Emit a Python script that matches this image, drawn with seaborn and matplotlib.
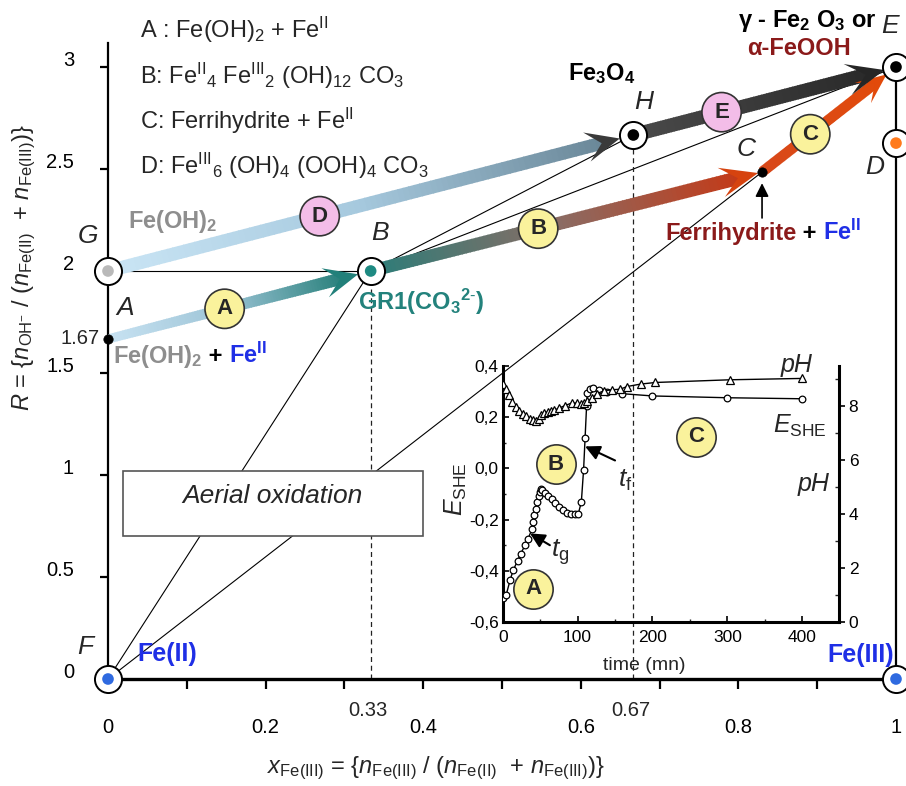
import numpy as np
import matplotlib
matplotlib.use("Agg")
import matplotlib.pyplot as plt
import seaborn as sns
from matplotlib.collections import LineCollection
from matplotlib.colors import LinearSegmentedColormap
from matplotlib.patches import Polygon, Rectangle
from matplotlib.transforms import IdentityTransform, ScaledTranslation

# ------------------------------------------------------------------ data
node_names = ["F", "Fe3", "A", "G", "B", "H", "C", "D", "E"]
node_x = [0.0, 1.0, 0.0, 0.0, 1 / 3, 2 / 3, 0.83, 1.0, 1.0]
node_y = [0.0, 0.0, 5 / 3, 2.0, 2.0, 8 / 3, 2.485, 2.627, 3.0]

x_major = [0, 0.2, 0.4, 0.6, 0.8, 1]
x_major_labels = ["0", "0.2", "0.4", "0.6", "0.8", "1"]
x_minor = [0.1, 0.3, 0.5, 0.7, 0.9]
x_special = [1 / 3, 2 / 3]
x_special_labels = ["0.33", "0.67"]
y_major = [0, 0.5, 1, 1.5, 2, 2.5, 3]
y_major_labels = ["0", "0.5", "1", "1.5", "2", "2.5", "3"]
y_special = [5 / 3]
y_special_labels = ["1.67"]

route_start = ["A", "G", "B", "C", "H"]
route_end = ["B", "H", "C", "E", "E"]
route_badge = ["A", "D", "B", "C", "E"]

thin_from = ["G", "F", "F", "B", "B"]
thin_to = ["B", "B", "C", "H", "E"]
dashed_nodes = ["B", "H"]

legend_lines = [
    r"A : Fe(OH)$_2$ + Fe$^{\mathrm{II}}$",
    r"B: Fe$^{\mathrm{II}}{}_4$ Fe$^{\mathrm{III}}{}_2$ (OH)$_{12}$ CO$_3$",
    r"C: Ferrihydrite + Fe$^{\mathrm{II}}$",
    r"D: Fe$^{\mathrm{III}}{}_6$ (OH)$_4$ (OOH)$_4$ CO$_3$",
]

# inset: E_SHE (V) and pH versus time (mn)
t_E = [0, 4.5, 10, 14, 20, 24, 30, 34, 39, 40, 42, 44, 46, 49, 50, 51, 53, 57, 61,
       66, 70, 75, 80, 86, 91, 97, 101, 105, 108, 110, 112, 113, 117, 121, 128,
       139, 159, 200, 300, 400]
E_she = [-0.505, -0.496, -0.435, -0.398, -0.36, -0.333, -0.30, -0.274, -0.238,
         -0.209, -0.181, -0.157, -0.131, -0.108, -0.092, -0.079, -0.086, -0.096,
         -0.109, -0.121, -0.135, -0.151, -0.164, -0.173, -0.177, -0.177, -0.177,
         -0.131, -0.005, 0.119, 0.244, 0.296, 0.309, 0.314, 0.305, 0.298, 0.292,
         0.283, 0.276, 0.272]
t_pH = [0, 4.5, 9, 13, 18, 22, 27, 31, 36, 40, 45, 48, 51, 55, 60, 64, 69, 75, 83,
        92, 99, 104, 108, 113, 119, 126, 135, 146, 157, 166, 184, 204, 304, 400]
pH = [8.81, 8.62, 8.41, 8.15, 7.98, 7.82, 7.70, 7.61, 7.53, 7.47, 7.45, 7.51, 7.66,
      7.73, 7.78, 7.81, 7.84, 7.92, 8.01, 8.11, 8.11, 8.08, 8.11, 8.17, 8.29, 8.46,
      8.56, 8.60, 8.62, 8.72, 8.81, 8.87, 8.97, 9.02]
inset_t_ticks = [0, 100, 200, 300, 400]
inset_E_ticks = [-0.6, -0.4, -0.2, 0.0, 0.2, 0.4]
inset_E_labels = ["-0,6", "-0,4", "-0,2", "0,0", "0,2", "0,4"]
inset_pH_ticks = [0, 2, 4, 6, 8]

# ------------------------------------------------------------------ style
sns.set_theme(style="white")
plt.rcParams["font.family"] = ["Liberation Sans", "DejaVu Sans"]
plt.rcParams["mathtext.fontset"] = "custom"
plt.rcParams["mathtext.rm"] = "Liberation Sans"
plt.rcParams["mathtext.it"] = "Liberation Sans:italic"
plt.rcParams["mathtext.bf"] = "Liberation Sans:bold"
plt.rcParams["mathtext.sf"] = "Liberation Sans"

YELLOW = "#faf29c"
PINK = "#f3bde8"
TEAL = "#23827c"
DKRED = "#8b1a1a"
BLUE = "#1f2fe6"
GRAY = "#8e8e8e"

dot_color = {"F": "#2f6ae0", "Fe3": "#2f6ae0", "G": "#b9b9b9", "B": "#1e8a82",
             "H": "black", "D": "#ff7a1c", "E": "black"}
route_cols = {
    "A": (["#c8e2f2", "#9cc4d6", "#2a817c"], 6.5, 9.0, 34, 30, 0.55, 13, "#22807a"),
    "D": (["#cae5f5", "#a6c9de", "#6a8798"], 9.5, 9.5, 34, 30, 0.55, 14, "#3a3a3a"),
    "B": (["#2c7d79", "#8a6c64", "#c43a18"], 9.0, 10.0, 38, 30, 0.55, 4, "#d6430f"),
    "C": (["#d8481a", "#e14b0c"], 7.5, 7.5, 30, 26, 0.5, 12, "#e24a0a"),
    "E": (["#4a4a4a", "#2a2a2a"], 10.0, 10.0, 38, 32, 0.5, 12, "#262626"),
}
badge_frac = {"A": 0.444, "D": 0.403, "B": 0.428, "C": 0.36, "E": 0.336}
badge_face = {"A": YELLOW, "B": YELLOW, "C": YELLOW, "D": PINK, "E": PINK}

P = {n: (x, y) for n, x, y in zip(node_names, node_x, node_y)}

# ------------------------------------------------------------------ figure
W, H = 906, 786
X0, X1, Y0, YPX, YTOP = 108, 896, 679, 204, 3.12
fig = plt.figure(figsize=(W / 100, H / 100), dpi=100)
fig.patch.set_facecolor("white")
ax = fig.add_axes([X0 / W, (H - Y0) / H, (X1 - X0) / W, YPX * YTOP / H])
ax.set_xlim(0, 1)
ax.set_ylim(0, YTOP)
ax.set_facecolor("white")

ax.spines["top"].set_visible(False)
ax.spines["left"].set_linewidth(1.6)
ax.spines["bottom"].set_linewidth(2.4)
ax.spines["right"].set_linewidth(1.6)
ax.spines["right"].set_bounds(0, 3)
for s in ["left", "bottom", "right"]:
    ax.spines[s].set_color("black")

ax.set_xticks(x_major, x_major_labels, fontsize=14.5)
ax.set_xticks(x_minor, minor=True)
ax.tick_params(axis="x", which="both", direction="out", length=7, width=1.6,
               pad=21, colors="black", bottom=True)
ax.set_yticks(y_major, y_major_labels, fontsize=14.5)
ax.tick_params(axis="y", which="both", direction="out", length=5.5, width=1.6,
               pad=19, colors="black", left=True)
for lab in ax.get_yticklabels():
    lab.set_transform(lab.get_transform() + ScaledTranslation(0, 0.09, fig.dpi_scale_trans))
for xv, lb in zip(x_special, x_special_labels):
    ax.annotate(lb, xy=(xv, 0), xytext=(-2, -23), textcoords="offset points",
                ha="center", va="center", fontsize=14.5, annotation_clip=False)
for yv, lb in zip(y_special, y_special_labels):
    ax.annotate(lb, xy=(0, yv), xytext=(-6, 0), textcoords="offset points",
                ha="right", va="center", fontsize=14.5, annotation_clip=False)

ax.set_xlabel(r"$x_{\mathrm{Fe(III)}}$ = {$n_{\mathrm{Fe(III)}}$ / ($n_{\mathrm{Fe(II)}}$  + $n_{\mathrm{Fe(III)}}$)}",
              fontsize=17)
ax.xaxis.set_label_coords(0.416, -89 / (YPX * YTOP))
ax.xaxis.label.set_va("center")
ax.set_ylabel(r"$R$ = {$n_{\mathrm{OH^{-}}}$ / ($n_{\mathrm{Fe(II)}}$  + $n_{\mathrm{Fe(III)}}$)}",
              fontsize=17)
ax.yaxis.set_label_coords(-(X0 - 24) / (X1 - X0), (Y0 - 268) / (YPX * YTOP))
ax.yaxis.label.set_va("center")

# thin construction lines
for a, b in zip(thin_from, thin_to):
    ax.plot([P[a][0], P[b][0]], [P[a][1], P[b][1]], color="black", lw=0.8, zorder=2)
for n in dashed_nodes:
    ax.plot([P[n][0], P[n][0]], [0, P[n][1]], color="#222222", lw=0.9,
            ls=(0, (4, 3)), zorder=2)

# Aerial oxidation box
ax.add_patch(Rectangle((0.019, 0.701), 0.381, 0.319, facecolor="white",
                       edgecolor="#555555", lw=1.2, zorder=2.5))
ax.text(0.209, 0.897, "Aerial oxidation", style="italic", fontsize=19,
        ha="center", va="center", zorder=2.6)


# gradient arrows
def draw_route(p0, p1, cols, lw0, lw1, L, Wd, notch, gap, head_col, z=3):
    T = ax.transData
    a = np.array(T.transform(p0))
    b = np.array(T.transform(p1))
    d = b - a
    u = d / np.hypot(*d)
    nrm = np.array([-u[1], u[0]])
    tip = b - u * gap
    base = tip - u * L * notch
    N = 90
    s = np.linspace(0, 1, N + 1)
    pts = a[None, :] + (base - a)[None, :] * s[:, None]
    segs = [[pts[i], pts[i + 1] + u * 0.9] for i in range(N)]
    cmap = LinearSegmentedColormap.from_list("g", cols)
    lc = LineCollection(segs, colors=cmap(s[:-1]), linewidths=np.linspace(lw0, lw1, N),
                        capstyle="butt", transform=IdentityTransform(), zorder=z)
    ax.add_collection(lc, autolim=False)
    head = Polygon([tip, tip - u * L + nrm * Wd / 2, tip - u * L * notch,
                    tip - u * L - nrm * Wd / 2], closed=True, facecolor=head_col,
                   edgecolor="none", transform=IdentityTransform(), zorder=z + 0.1)
    ax.add_patch(head)


for st, en, bd in zip(route_start, route_end, route_badge):
    cols, lw0, lw1, L, Wd, notch, gap, hc = route_cols[bd]
    draw_route(P[st], P[en], cols, lw0, lw1, L, Wd, notch, gap, hc)

# badges on routes
bx = [P[s][0] + badge_frac[b] * (P[e][0] - P[s][0]) for s, e, b in zip(route_start, route_end, route_badge)]
by = [P[s][1] + badge_frac[b] * (P[e][1] - P[s][1]) for s, e, b in zip(route_start, route_end, route_badge)]
sns.scatterplot(x=bx, y=by, hue=route_badge, palette=badge_face, s=800,
                edgecolor="#333333", linewidth=1.2, legend=False, ax=ax, zorder=5)
for xx, yy, b in zip(bx, by, route_badge):
    ax.text(xx, yy, b, fontsize=16, fontweight="bold", ha="center", va="center", zorder=5.5)

# nodes
ring = [n for n in node_names if n in dot_color]
sns.scatterplot(x=[P[n][0] for n in ring], y=[P[n][1] for n in ring], s=380,
                color="white", edgecolor="black", linewidth=1.4, ax=ax, zorder=6,
                clip_on=False, legend=False)
sns.scatterplot(x=[P[n][0] for n in ring], y=[P[n][1] for n in ring], hue=ring,
                palette=dot_color, s=70, edgecolor="none", ax=ax, zorder=6.5,
                clip_on=False, legend=False)
sns.scatterplot(x=[P["A"][0], P["C"][0]], y=[P["A"][1], P["C"][1]], s=45,
                color="black", edgecolor="black", ax=ax, zorder=6.5, clip_on=False,
                legend=False)

# node letters
letter_pos = {"G": (-0.025, 2.17), "A": (0.0216, 1.82), "B": (0.345, 2.186),
              "H": (0.68, 2.83), "C": (0.81, 2.60), "D": (0.973, 2.51),
              "E": (0.992, 3.20), "F": (-0.029, 0.157)}
for k, (xx, yy) in letter_pos.items():
    ax.text(xx, yy, k, style="italic", fontsize=19, ha="center", va="center",
            zorder=7, clip_on=False)


def chain(x, y, parts, size, weight="bold", va="baseline"):
    t = ax.text(x, y, parts[0][0], color=parts[0][1], fontsize=size,
                fontweight=weight, va=va, ha="left", zorder=8)
    prev = t
    for s, c in parts[1:]:
        prev = ax.annotate(s, xy=(1, y), xycoords=(prev, "data"), color=c,
                           fontsize=size, fontweight=weight, va=va, ha="left",
                           zorder=8, annotation_clip=False)
    return t


chain(0.025, 2.21, [(r"Fe(OH)$_\mathbf{2}$", GRAY)], 17)
chain(0.006, 1.549, [(r"Fe(OH)$_\mathbf{2}$", GRAY), (" + ", "black"),
                     (r"Fe$^\mathbf{II}$", BLUE)], 17)
chain(0.317, 1.81, [(r"GR1(CO$_\mathbf{3}$$^{\mathbf{2}\text{-}}$)", TEAL)], 17)
chain(0.584, 2.936, [(r"Fe$_\mathbf{3}$O$_\mathbf{4}$", "black")], 17)
chain(0.80, 3.196, [(r"γ - Fe$_\mathbf{2}$ O$_\mathbf{3}$ or", "black")], 17)
chain(0.811, 3.059, [("α-FeOOH", DKRED)], 17)
chain(0.707, 2.152, [("Ferrihydrite", DKRED), (" + ", "black"),
                     (r"Fe$^\mathbf{II}$", BLUE)], 17)
ax.text(0.037, 0.123, "Fe(II)", color=BLUE, fontsize=18, fontweight="bold",
        ha="left", va="center", zorder=8)
ax.text(0.997, 0.118, "Fe(III)", color=BLUE, fontsize=18, fontweight="bold",
        ha="right", va="center", zorder=8)
ax.annotate("", xy=P["C"], xytext=(P["C"][0], 2.26),
            arrowprops=dict(arrowstyle="-|>", color="black", lw=1.2,
                            mutation_scale=20, shrinkA=0, shrinkB=8), zorder=7)

for i, line in enumerate(legend_lines):
    ax.text(0.041, 3.142 - i * 0.2225, line, fontsize=17, ha="left",
            va="baseline", zorder=8, clip_on=False)

# ------------------------------------------------------------------ inset
IL, IR, IB, IT = 502.7, 839, 622, 366
axin = fig.add_axes([IL / W, (H - IB) / H, (IR - IL) / W, (IB - IT) / H])
axin.set_facecolor("none")
sns.lineplot(x=t_E, y=E_she, ax=axin, color="black", lw=1.0, marker="o",
             markersize=4.8, markerfacecolor="white", markeredgecolor="black",
             markeredgewidth=0.9, sort=False, estimator=None, zorder=4)
axin.set_xlim(0, 449)
axin.set_ylim(-0.6, 0.4)
axp = axin.twinx()
sns.lineplot(x=t_pH, y=pH, ax=axp, color="black", lw=1.0, marker="^",
             markersize=5.2, markerfacecolor="white", markeredgecolor="black",
             markeredgewidth=0.9, sort=False, estimator=None, zorder=4)
axp.set_ylim(0, 9.48)
axp.set_xlim(0, 449)

for s in ["top", "right"]:
    axin.spines[s].set_visible(False)
for s in ["top", "left", "bottom"]:
    axp.spines[s].set_visible(False)
axin.spines["left"].set_linewidth(2.2)
axin.spines["bottom"].set_linewidth(2.2)
axp.spines["right"].set_linewidth(2.2)
for a_ in (axin, axp):
    for s in a_.spines.values():
        s.set_color("black")

axin.set_xticks(inset_t_ticks, [str(v) for v in inset_t_ticks], fontsize=12.5)
axin.set_xticks([50, 150, 250, 350], minor=True)
axin.set_yticks(inset_E_ticks, inset_E_labels, fontsize=12.5)
axin.set_yticks([-0.5, -0.3, -0.1, 0.1, 0.3], minor=True)
axin.tick_params(axis="both", which="major", direction="in", length=4, width=1.2,
                 pad=3, colors="black", bottom=True, left=True)
axin.tick_params(axis="x", which="major", pad=6)
axin.tick_params(axis="both", which="minor", direction="in", length=2.5, width=1.0,
                 bottom=True, left=True)
axp.set_yticks(inset_pH_ticks, [str(v) for v in inset_pH_ticks], fontsize=12.5)
axp.set_yticks([1, 3, 5, 7, 9], minor=True)
axp.tick_params(axis="y", which="major", direction="out", length=4, width=1.2,
                pad=3, colors="black", right=True)
axp.tick_params(axis="y", which="minor", direction="in", length=3, width=1.0, right=True)
axp.set_ylabel("")
axin.set_xlabel("time (mn)", fontsize=14)
axin.xaxis.set_label_coords((644 - IL) / (IR - IL), -(665 - IB) / (IB - IT))
axin.xaxis.label.set_va("center")
axin.set_ylabel(r"$E_{\mathrm{SHE}}$", fontsize=18)
axin.yaxis.set_label_coords(-(IL - 456) / (IR - IL), (IB - 489) / (IB - IT))
axin.yaxis.label.set_va("center")

axin.text(392, 0.405, "pH", style="italic", fontsize=18, ha="center", va="center",
          clip_on=False)
axin.text(397, 0.166, r"$E_{\mathrm{SHE}}$", fontsize=18, ha="center", va="center")
axin.text(415, -0.061, "pH", style="italic", fontsize=18, ha="center", va="center")

inset_badges = {"A": (40.5, -0.471), "B": (71, 0.017), "C": (258, 0.123)}
sns.scatterplot(x=[v[0] for v in inset_badges.values()],
                y=[v[1] for v in inset_badges.values()], s=800, color=YELLOW,
                edgecolor="#333333", linewidth=1.2, ax=axin, zorder=6, legend=False)
for k, (xx, yy) in inset_badges.items():
    axin.text(xx, yy, k, fontsize=16, fontweight="bold", ha="center", va="center", zorder=7)

axin.annotate("", xy=(36.5, -0.254), xytext=(63, -0.30),
              arrowprops=dict(arrowstyle="-|>", color="black", lw=1.5,
                              mutation_scale=22, shrinkA=0, shrinkB=0), zorder=7)
axin.text(76.6, -0.327, r"$t_{\mathrm{g}}$", fontsize=19, ha="center", va="center")
axin.annotate("", xy=(110, 0.086), xytext=(150, 0.031),
              arrowprops=dict(arrowstyle="-|>", color="black", lw=1.5,
                              mutation_scale=22, shrinkA=0, shrinkB=0), zorder=7)
axin.text(163.5, -0.045, r"$t_{\mathrm{f}}$", fontsize=19, ha="center", va="center")

fig.savefig("out.png", dpi=100, facecolor="white")
